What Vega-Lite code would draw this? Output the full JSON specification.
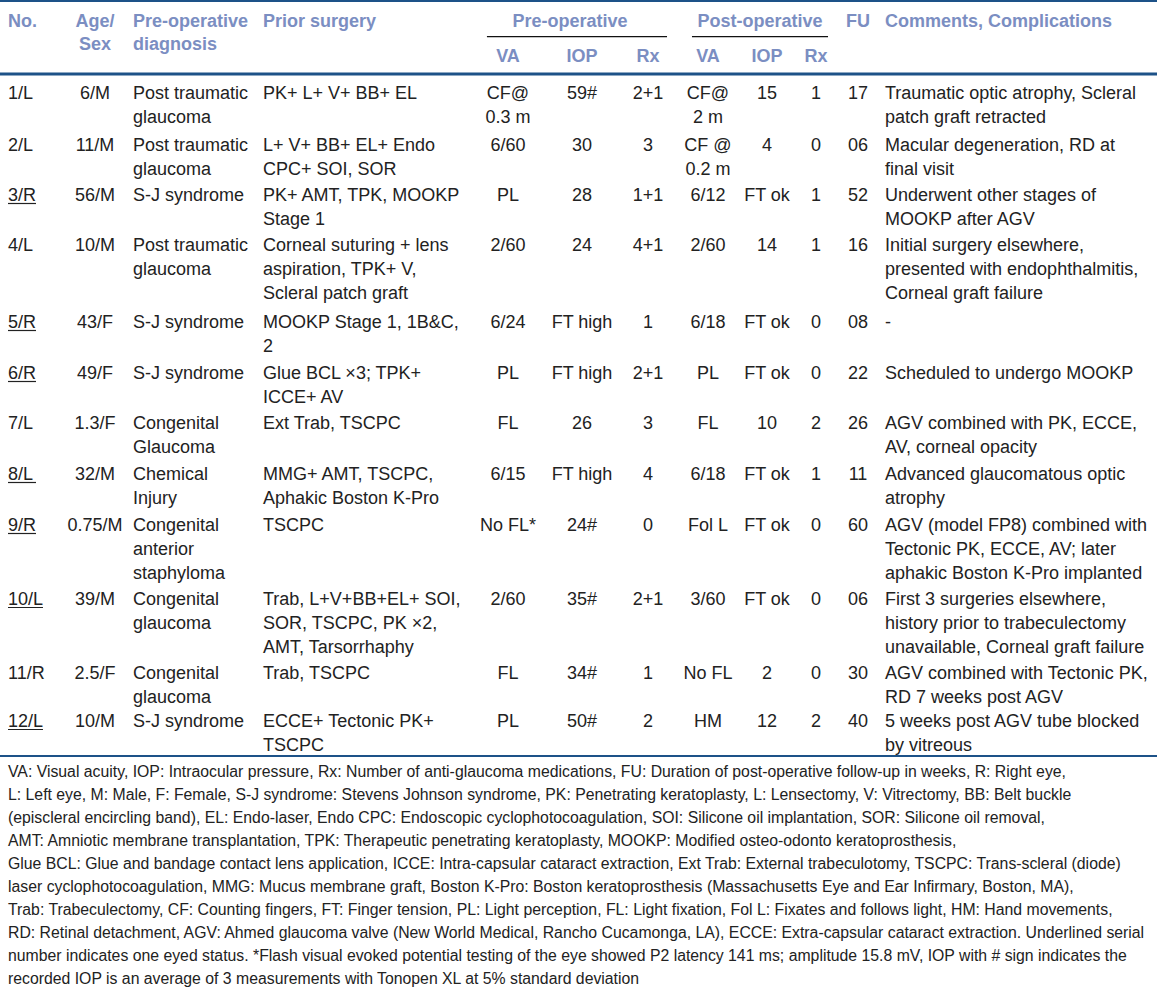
{
  "$schema": "https://vega.github.io/schema/vega-lite/v6.json",
  "width": 1157,
  "height": 993,
  "autosize": {"type": "none"},
  "padding": 0,
  "background": "white",
  "config": {
    "view": {"stroke": null},
    "text": {"font": "Liberation Sans", "fontSize": 18, "color": "#222222", "baseline": "alphabetic", "lineBreak": "\n", "lineHeight": 24}
  },
  "datasets": {
    "patients": [
      {"n": 1, "no": "1/L", "one_eyed": false, "age": "6/M", "dx": "Post traumatic\nglaucoma", "prior": "PK+ L+ V+ BB+ EL", "preVA": "CF@\n0.3 m", "preIOP": "59#", "preRx": "2+1", "postVA": "CF@\n2 m", "postIOP": "15", "postRx": "1", "fu": "17", "com": "Traumatic optic atrophy, Scleral\npatch graft retracted"},
      {"n": 2, "no": "2/L", "one_eyed": false, "age": "11/M", "dx": "Post traumatic\nglaucoma", "prior": "L+ V+ BB+ EL+ Endo\nCPC+ SOI, SOR", "preVA": "6/60", "preIOP": "30", "preRx": "3", "postVA": "CF @\n0.2 m", "postIOP": "4", "postRx": "0", "fu": "06", "com": "Macular degeneration, RD at\nfinal visit"},
      {"n": 3, "no": "3/R", "one_eyed": true, "age": "56/M", "dx": "S-J syndrome", "prior": "PK+ AMT, TPK, MOOKP\nStage 1", "preVA": "PL", "preIOP": "28", "preRx": "1+1", "postVA": "6/12", "postIOP": "FT ok", "postRx": "1", "fu": "52", "com": "Underwent other stages of\nMOOKP after AGV"},
      {"n": 4, "no": "4/L", "one_eyed": false, "age": "10/M", "dx": "Post traumatic\nglaucoma", "prior": "Corneal suturing + lens\naspiration, TPK+ V,\nScleral patch graft", "preVA": "2/60", "preIOP": "24", "preRx": "4+1", "postVA": "2/60", "postIOP": "14", "postRx": "1", "fu": "16", "com": "Initial surgery elsewhere,\npresented with endophthalmitis,\nCorneal graft failure"},
      {"n": 5, "no": "5/R", "one_eyed": true, "age": "43/F", "dx": "S-J syndrome", "prior": "MOOKP Stage 1, 1B&C,\n2", "preVA": "6/24", "preIOP": "FT high", "preRx": "1", "postVA": "6/18", "postIOP": "FT ok", "postRx": "0", "fu": "08", "com": "-"},
      {"n": 6, "no": "6/R", "one_eyed": true, "age": "49/F", "dx": "S-J syndrome", "prior": "Glue BCL ×3; TPK+\nICCE+ AV", "preVA": "PL", "preIOP": "FT high", "preRx": "2+1", "postVA": "PL", "postIOP": "FT ok", "postRx": "0", "fu": "22", "com": "Scheduled to undergo MOOKP"},
      {"n": 7, "no": "7/L", "one_eyed": false, "age": "1.3/F", "dx": "Congenital\nGlaucoma", "prior": "Ext Trab, TSCPC", "preVA": "FL", "preIOP": "26", "preRx": "3", "postVA": "FL", "postIOP": "10", "postRx": "2", "fu": "26", "com": "AGV combined with PK, ECCE,\nAV, corneal opacity"},
      {"n": 8, "no": "8/L", "one_eyed": true, "age": "32/M", "dx": "Chemical\nInjury", "prior": "MMG+ AMT, TSCPC,\nAphakic Boston K-Pro", "preVA": "6/15", "preIOP": "FT high", "preRx": "4", "postVA": "6/18", "postIOP": "FT ok", "postRx": "1", "fu": "11", "com": "Advanced glaucomatous optic\natrophy"},
      {"n": 9, "no": "9/R", "one_eyed": true, "age": "0.75/M", "dx": "Congenital\nanterior\nstaphyloma", "prior": "TSCPC", "preVA": "No FL*", "preIOP": "24#", "preRx": "0", "postVA": "Fol L", "postIOP": "FT ok", "postRx": "0", "fu": "60", "com": "AGV (model FP8) combined with\nTectonic PK, ECCE, AV; later\naphakic Boston K-Pro implanted"},
      {"n": 10, "no": "10/L", "one_eyed": true, "age": "39/M", "dx": "Congenital\nglaucoma", "prior": "Trab, L+V+BB+EL+ SOI,\nSOR, TSCPC, PK ×2,\nAMT, Tarsorrhaphy", "preVA": "2/60", "preIOP": "35#", "preRx": "2+1", "postVA": "3/60", "postIOP": "FT ok", "postRx": "0", "fu": "06", "com": "First 3 surgeries elsewhere,\nhistory prior to trabeculectomy\nunavailable, Corneal graft failure"},
      {"n": 11, "no": "11/R", "one_eyed": false, "age": "2.5/F", "dx": "Congenital\nglaucoma", "prior": "Trab, TSCPC", "preVA": "FL", "preIOP": "34#", "preRx": "1", "postVA": "No FL", "postIOP": "2", "postRx": "0", "fu": "30", "com": "AGV combined with Tectonic PK,\nRD 7 weeks post AGV"},
      {"n": 12, "no": "12/L", "one_eyed": true, "age": "10/M", "dx": "S-J syndrome", "prior": "ECCE+ Tectonic PK+\nTSCPC", "preVA": "PL", "preIOP": "50#", "preRx": "2", "postVA": "HM", "postIOP": "12", "postRx": "2", "fu": "40", "com": "5 weeks post AGV tube blocked\nby vitreous"}
    ],
    "headers": [
      {"h": "No.", "col": 0},
      {"h": "Age/\nSex", "col": 1},
      {"h": "Pre-operative\ndiagnosis", "col": 2},
      {"h": "Prior surgery", "col": 3},
      {"h": "FU", "col": 10},
      {"h": "Comments, Complications", "col": 11}
    ],
    "subheaders": [
      {"h": "VA", "col": 4},
      {"h": "IOP", "col": 5},
      {"h": "Rx", "col": 6},
      {"h": "VA", "col": 7},
      {"h": "IOP", "col": 8},
      {"h": "Rx", "col": 9}
    ],
    "notes": [
      {"note": "VA: Visual acuity, IOP: Intraocular pressure, Rx: Number of anti-glaucoma medications, FU: Duration of post-operative follow-up in weeks, R: Right eye,\nL: Left eye, M: Male, F: Female, S-J syndrome: Stevens Johnson syndrome, PK: Penetrating keratoplasty, L: Lensectomy, V: Vitrectomy, BB: Belt buckle\n(episcleral encircling band), EL: Endo-laser, Endo CPC: Endoscopic cyclophotocoagulation, SOI: Silicone oil implantation, SOR: Silicone oil removal,\nAMT: Amniotic membrane transplantation, TPK: Therapeutic penetrating keratoplasty, MOOKP: Modified osteo-odonto keratoprosthesis,\nGlue BCL: Glue and bandage contact lens application, ICCE: Intra-capsular cataract extraction, Ext Trab: External trabeculotomy, TSCPC: Trans-scleral (diode)\nlaser cyclophotocoagulation, MMG: Mucus membrane graft, Boston K-Pro: Boston keratoprosthesis (Massachusetts Eye and Ear Infirmary, Boston, MA),\nTrab: Trabeculectomy, CF: Counting fingers, FT: Finger tension, PL: Light perception, FL: Light fixation, Fol L: Fixates and follows light, HM: Hand movements,\nRD: Retinal detachment, AGV: Ahmed glaucoma valve (New World Medical, Rancho Cucamonga, LA), ECCE: Extra-capsular cataract extraction. Underlined serial\nnumber indicates one eyed status. *Flash visual evoked potential testing of the eye showed P2 latency 141 ms; amplitude 15.8 mV, IOP with # sign indicates the\nrecorded IOP is an average of 3 measurements with Tonopen XL at 5% standard deviation"}
    ]
  },
  "layer": [
    {
      "data": {"name": "notes"},
      "mark": {"type": "rule", "color": "#1d5288", "strokeWidth": 2},
      "encoding": {"y": {"datum": 0.0101, "type": "quantitative", "scale": {"type": "linear", "domain": [0, 1, 2, 3, 4, 5, 6, 7, 8, 9, 10, 11, 12, 13], "range": [0, 99, 151, 201, 251, 328, 379, 429, 480, 531, 605, 679, 727, 993], "zero": false, "nice": false}, "axis": null}}
    },
    {
      "data": {"name": "notes"},
      "mark": {"type": "rule", "color": "#1d5288", "strokeWidth": 3},
      "encoding": {"y": {"datum": 0.7475, "type": "quantitative", "scale": {"type": "linear", "domain": [0, 1, 2, 3, 4, 5, 6, 7, 8, 9, 10, 11, 12, 13], "range": [0, 99, 151, 201, 251, 328, 379, 429, 480, 531, 605, 679, 727, 993], "zero": false, "nice": false}, "axis": null}}
    },
    {
      "data": {"name": "notes"},
      "mark": {"type": "rule", "color": "#1d5288", "strokeWidth": 2},
      "encoding": {"y": {"datum": 12.109, "type": "quantitative", "scale": {"type": "linear", "domain": [0, 1, 2, 3, 4, 5, 6, 7, 8, 9, 10, 11, 12, 13], "range": [0, 99, 151, 201, 251, 328, 379, 429, 480, 531, 605, 679, 727, 993], "zero": false, "nice": false}, "axis": null}}
    },
    {
      "data": {"name": "notes"},
      "mark": {"type": "rule", "color": "#111111", "strokeWidth": 1.3},
      "encoding": {
        "y": {"datum": 0.3707, "type": "quantitative", "scale": {"type": "linear", "domain": [0, 1, 2, 3, 4, 5, 6, 7, 8, 9, 10, 11, 12, 13], "range": [0, 99, 151, 201, 251, 328, 379, 429, 480, 531, 605, 679, 727, 993], "zero": false, "nice": false}, "axis": null},
        "x": {"datum": 3.914, "type": "quantitative", "scale": {"type": "linear", "domain": [0, 1, 2, 3, 4, 5, 6, 7, 8, 9, 10, 11], "range": [8, 95, 133, 263, 508, 582, 648, 708, 767, 816, 858, 885], "zero": false, "nice": false}, "axis": null},
        "x2": {"datum": 6.317}
      }
    },
    {
      "data": {"name": "notes"},
      "mark": {"type": "rule", "color": "#111111", "strokeWidth": 1.3},
      "encoding": {
        "y": {"datum": 0.3707, "type": "quantitative", "scale": {"type": "linear", "domain": [0, 1, 2, 3, 4, 5, 6, 7, 8, 9, 10, 11, 12, 13], "range": [0, 99, 151, 201, 251, 328, 379, 429, 480, 531, 605, 679, 727, 993], "zero": false, "nice": false}, "axis": null},
        "x": {"datum": 6.733, "type": "quantitative", "scale": {"type": "linear", "domain": [0, 1, 2, 3, 4, 5, 6, 7, 8, 9, 10, 11], "range": [8, 95, 133, 263, 508, 582, 648, 708, 767, 816, 858, 885], "zero": false, "nice": false}, "axis": null},
        "x2": {"datum": 9.286}
      }
    },
    {
      "data": {"name": "headers"},
      "transform": [{"filter": "indexof([0, 2, 3, 11], datum.col) >= 0"}],
      "mark": {"type": "text", "align": "left", "fontWeight": "bold", "color": "#7b8ec2", "lineHeight": 23},
      "encoding": {
        "y": {"datum": 0.2727, "type": "quantitative", "scale": {"type": "linear", "domain": [0, 1, 2, 3, 4, 5, 6, 7, 8, 9, 10, 11, 12, 13], "range": [0, 99, 151, 201, 251, 328, 379, 429, 480, 531, 605, 679, 727, 993], "zero": false, "nice": false}, "axis": null},
        "x": {"field": "col", "type": "quantitative", "scale": {"type": "linear", "domain": [0, 1, 2, 3, 4, 5, 6, 7, 8, 9, 10, 11], "range": [8, 95, 133, 263, 508, 582, 648, 708, 767, 816, 858, 885], "zero": false, "nice": false}, "axis": null},
        "text": {"field": "h"}
      }
    },
    {
      "data": {"name": "headers"},
      "transform": [{"filter": "indexof([1, 10], datum.col) >= 0"}],
      "mark": {"type": "text", "align": "center", "fontWeight": "bold", "color": "#7b8ec2", "lineHeight": 23},
      "encoding": {
        "y": {"datum": 0.2727, "type": "quantitative", "scale": {"type": "linear", "domain": [0, 1, 2, 3, 4, 5, 6, 7, 8, 9, 10, 11, 12, 13], "range": [0, 99, 151, 201, 251, 328, 379, 429, 480, 531, 605, 679, 727, 993], "zero": false, "nice": false}, "axis": null},
        "x": {"field": "col", "type": "quantitative", "scale": {"type": "linear", "domain": [0, 1, 2, 3, 4, 5, 6, 7, 8, 9, 10, 11], "range": [8, 95, 133, 263, 508, 582, 648, 708, 767, 816, 858, 885], "zero": false, "nice": false}, "axis": null},
        "text": {"field": "h"}
      }
    },
    {
      "data": {"name": "subheaders"},
      "mark": {"type": "text", "align": "center", "fontWeight": "bold", "color": "#7b8ec2"},
      "encoding": {
        "y": {"datum": 0.6263, "type": "quantitative", "scale": {"type": "linear", "domain": [0, 1, 2, 3, 4, 5, 6, 7, 8, 9, 10, 11, 12, 13], "range": [0, 99, 151, 201, 251, 328, 379, 429, 480, 531, 605, 679, 727, 993], "zero": false, "nice": false}, "axis": null},
        "x": {"field": "col", "type": "quantitative", "scale": {"type": "linear", "domain": [0, 1, 2, 3, 4, 5, 6, 7, 8, 9, 10, 11], "range": [8, 95, 133, 263, 508, 582, 648, 708, 767, 816, 858, 885], "zero": false, "nice": false}, "axis": null},
        "text": {"field": "h"}
      }
    },
    {
      "data": {"name": "notes"},
      "mark": {"type": "text", "align": "center", "fontWeight": "bold", "color": "#7b8ec2", "text": "Pre-operative"},
      "encoding": {
        "y": {"datum": 0.2727, "type": "quantitative", "scale": {"type": "linear", "domain": [0, 1, 2, 3, 4, 5, 6, 7, 8, 9, 10, 11, 12, 13], "range": [0, 99, 151, 201, 251, 328, 379, 429, 480, 531, 605, 679, 727, 993], "zero": false, "nice": false}, "axis": null},
        "x": {"datum": 4.838, "type": "quantitative", "scale": {"type": "linear", "domain": [0, 1, 2, 3, 4, 5, 6, 7, 8, 9, 10, 11], "range": [8, 95, 133, 263, 508, 582, 648, 708, 767, 816, 858, 885], "zero": false, "nice": false}, "axis": null}
      }
    },
    {
      "data": {"name": "notes"},
      "mark": {"type": "text", "align": "center", "fontWeight": "bold", "color": "#7b8ec2", "text": "Post-operative"},
      "encoding": {
        "y": {"datum": 0.2727, "type": "quantitative", "scale": {"type": "linear", "domain": [0, 1, 2, 3, 4, 5, 6, 7, 8, 9, 10, 11, 12, 13], "range": [0, 99, 151, 201, 251, 328, 379, 429, 480, 531, 605, 679, 727, 993], "zero": false, "nice": false}, "axis": null},
        "x": {"datum": 7.881, "type": "quantitative", "scale": {"type": "linear", "domain": [0, 1, 2, 3, 4, 5, 6, 7, 8, 9, 10, 11], "range": [8, 95, 133, 263, 508, 582, 648, 708, 767, 816, 858, 885], "zero": false, "nice": false}, "axis": null}
      }
    },
    {
      "data": {"name": "notes"},
      "mark": {"type": "text", "align": "left", "fontSize": 15.8, "lineHeight": 23},
      "encoding": {
        "y": {"datum": 12.188, "type": "quantitative", "scale": {"type": "linear", "domain": [0, 1, 2, 3, 4, 5, 6, 7, 8, 9, 10, 11, 12, 13], "range": [0, 99, 151, 201, 251, 328, 379, 429, 480, 531, 605, 679, 727, 993], "zero": false, "nice": false}, "axis": null},
        "x": {"datum": 0, "type": "quantitative", "scale": {"type": "linear", "domain": [0, 1, 2, 3, 4, 5, 6, 7, 8, 9, 10, 11], "range": [8, 95, 133, 263, 508, 582, 648, 708, 767, 816, 858, 885], "zero": false, "nice": false}, "axis": null},
        "text": {"field": "note"}
      }
    },
    {"data": {"name": "patients"}, "mark": {"type": "text", "align": "left"}, "encoding": {"y": {"field": "n", "type": "quantitative", "scale": {"type": "linear", "domain": [0, 1, 2, 3, 4, 5, 6, 7, 8, 9, 10, 11, 12, 13], "range": [0, 99, 151, 201, 251, 328, 379, 429, 480, 531, 605, 679, 727, 993], "zero": false, "nice": false}, "axis": null}, "x": {"datum": 0, "type": "quantitative", "scale": {"type": "linear", "domain": [0, 1, 2, 3, 4, 5, 6, 7, 8, 9, 10, 11], "range": [8, 95, 133, 263, 508, 582, 648, 708, 767, 816, 858, 885], "zero": false, "nice": false}, "axis": null}, "text": {"field": "no"}}},
    {"data": {"name": "patients"}, "mark": {"type": "text", "align": "center"}, "encoding": {"y": {"field": "n", "type": "quantitative", "scale": {"type": "linear", "domain": [0, 1, 2, 3, 4, 5, 6, 7, 8, 9, 10, 11, 12, 13], "range": [0, 99, 151, 201, 251, 328, 379, 429, 480, 531, 605, 679, 727, 993], "zero": false, "nice": false}, "axis": null}, "x": {"datum": 1, "type": "quantitative", "scale": {"type": "linear", "domain": [0, 1, 2, 3, 4, 5, 6, 7, 8, 9, 10, 11], "range": [8, 95, 133, 263, 508, 582, 648, 708, 767, 816, 858, 885], "zero": false, "nice": false}, "axis": null}, "text": {"field": "age"}}},
    {"data": {"name": "patients"}, "mark": {"type": "text", "align": "left"}, "encoding": {"y": {"field": "n", "type": "quantitative", "scale": {"type": "linear", "domain": [0, 1, 2, 3, 4, 5, 6, 7, 8, 9, 10, 11, 12, 13], "range": [0, 99, 151, 201, 251, 328, 379, 429, 480, 531, 605, 679, 727, 993], "zero": false, "nice": false}, "axis": null}, "x": {"datum": 2, "type": "quantitative", "scale": {"type": "linear", "domain": [0, 1, 2, 3, 4, 5, 6, 7, 8, 9, 10, 11], "range": [8, 95, 133, 263, 508, 582, 648, 708, 767, 816, 858, 885], "zero": false, "nice": false}, "axis": null}, "text": {"field": "dx"}}},
    {"data": {"name": "patients"}, "mark": {"type": "text", "align": "left"}, "encoding": {"y": {"field": "n", "type": "quantitative", "scale": {"type": "linear", "domain": [0, 1, 2, 3, 4, 5, 6, 7, 8, 9, 10, 11, 12, 13], "range": [0, 99, 151, 201, 251, 328, 379, 429, 480, 531, 605, 679, 727, 993], "zero": false, "nice": false}, "axis": null}, "x": {"datum": 3, "type": "quantitative", "scale": {"type": "linear", "domain": [0, 1, 2, 3, 4, 5, 6, 7, 8, 9, 10, 11], "range": [8, 95, 133, 263, 508, 582, 648, 708, 767, 816, 858, 885], "zero": false, "nice": false}, "axis": null}, "text": {"field": "prior"}}},
    {"data": {"name": "patients"}, "mark": {"type": "text", "align": "center"}, "encoding": {"y": {"field": "n", "type": "quantitative", "scale": {"type": "linear", "domain": [0, 1, 2, 3, 4, 5, 6, 7, 8, 9, 10, 11, 12, 13], "range": [0, 99, 151, 201, 251, 328, 379, 429, 480, 531, 605, 679, 727, 993], "zero": false, "nice": false}, "axis": null}, "x": {"datum": 4, "type": "quantitative", "scale": {"type": "linear", "domain": [0, 1, 2, 3, 4, 5, 6, 7, 8, 9, 10, 11], "range": [8, 95, 133, 263, 508, 582, 648, 708, 767, 816, 858, 885], "zero": false, "nice": false}, "axis": null}, "text": {"field": "preVA"}}},
    {"data": {"name": "patients"}, "mark": {"type": "text", "align": "center"}, "encoding": {"y": {"field": "n", "type": "quantitative", "scale": {"type": "linear", "domain": [0, 1, 2, 3, 4, 5, 6, 7, 8, 9, 10, 11, 12, 13], "range": [0, 99, 151, 201, 251, 328, 379, 429, 480, 531, 605, 679, 727, 993], "zero": false, "nice": false}, "axis": null}, "x": {"datum": 5, "type": "quantitative", "scale": {"type": "linear", "domain": [0, 1, 2, 3, 4, 5, 6, 7, 8, 9, 10, 11], "range": [8, 95, 133, 263, 508, 582, 648, 708, 767, 816, 858, 885], "zero": false, "nice": false}, "axis": null}, "text": {"field": "preIOP"}}},
    {"data": {"name": "patients"}, "mark": {"type": "text", "align": "center"}, "encoding": {"y": {"field": "n", "type": "quantitative", "scale": {"type": "linear", "domain": [0, 1, 2, 3, 4, 5, 6, 7, 8, 9, 10, 11, 12, 13], "range": [0, 99, 151, 201, 251, 328, 379, 429, 480, 531, 605, 679, 727, 993], "zero": false, "nice": false}, "axis": null}, "x": {"datum": 6, "type": "quantitative", "scale": {"type": "linear", "domain": [0, 1, 2, 3, 4, 5, 6, 7, 8, 9, 10, 11], "range": [8, 95, 133, 263, 508, 582, 648, 708, 767, 816, 858, 885], "zero": false, "nice": false}, "axis": null}, "text": {"field": "preRx"}}},
    {"data": {"name": "patients"}, "mark": {"type": "text", "align": "center"}, "encoding": {"y": {"field": "n", "type": "quantitative", "scale": {"type": "linear", "domain": [0, 1, 2, 3, 4, 5, 6, 7, 8, 9, 10, 11, 12, 13], "range": [0, 99, 151, 201, 251, 328, 379, 429, 480, 531, 605, 679, 727, 993], "zero": false, "nice": false}, "axis": null}, "x": {"datum": 7, "type": "quantitative", "scale": {"type": "linear", "domain": [0, 1, 2, 3, 4, 5, 6, 7, 8, 9, 10, 11], "range": [8, 95, 133, 263, 508, 582, 648, 708, 767, 816, 858, 885], "zero": false, "nice": false}, "axis": null}, "text": {"field": "postVA"}}},
    {"data": {"name": "patients"}, "mark": {"type": "text", "align": "center"}, "encoding": {"y": {"field": "n", "type": "quantitative", "scale": {"type": "linear", "domain": [0, 1, 2, 3, 4, 5, 6, 7, 8, 9, 10, 11, 12, 13], "range": [0, 99, 151, 201, 251, 328, 379, 429, 480, 531, 605, 679, 727, 993], "zero": false, "nice": false}, "axis": null}, "x": {"datum": 8, "type": "quantitative", "scale": {"type": "linear", "domain": [0, 1, 2, 3, 4, 5, 6, 7, 8, 9, 10, 11], "range": [8, 95, 133, 263, 508, 582, 648, 708, 767, 816, 858, 885], "zero": false, "nice": false}, "axis": null}, "text": {"field": "postIOP"}}},
    {"data": {"name": "patients"}, "mark": {"type": "text", "align": "center"}, "encoding": {"y": {"field": "n", "type": "quantitative", "scale": {"type": "linear", "domain": [0, 1, 2, 3, 4, 5, 6, 7, 8, 9, 10, 11, 12, 13], "range": [0, 99, 151, 201, 251, 328, 379, 429, 480, 531, 605, 679, 727, 993], "zero": false, "nice": false}, "axis": null}, "x": {"datum": 9, "type": "quantitative", "scale": {"type": "linear", "domain": [0, 1, 2, 3, 4, 5, 6, 7, 8, 9, 10, 11], "range": [8, 95, 133, 263, 508, 582, 648, 708, 767, 816, 858, 885], "zero": false, "nice": false}, "axis": null}, "text": {"field": "postRx"}}},
    {"data": {"name": "patients"}, "mark": {"type": "text", "align": "center"}, "encoding": {"y": {"field": "n", "type": "quantitative", "scale": {"type": "linear", "domain": [0, 1, 2, 3, 4, 5, 6, 7, 8, 9, 10, 11, 12, 13], "range": [0, 99, 151, 201, 251, 328, 379, 429, 480, 531, 605, 679, 727, 993], "zero": false, "nice": false}, "axis": null}, "x": {"datum": 10, "type": "quantitative", "scale": {"type": "linear", "domain": [0, 1, 2, 3, 4, 5, 6, 7, 8, 9, 10, 11], "range": [8, 95, 133, 263, 508, 582, 648, 708, 767, 816, 858, 885], "zero": false, "nice": false}, "axis": null}, "text": {"field": "fu"}}},
    {"data": {"name": "patients"}, "mark": {"type": "text", "align": "left"}, "encoding": {"y": {"field": "n", "type": "quantitative", "scale": {"type": "linear", "domain": [0, 1, 2, 3, 4, 5, 6, 7, 8, 9, 10, 11, 12, 13], "range": [0, 99, 151, 201, 251, 328, 379, 429, 480, 531, 605, 679, 727, 993], "zero": false, "nice": false}, "axis": null}, "x": {"datum": 11, "type": "quantitative", "scale": {"type": "linear", "domain": [0, 1, 2, 3, 4, 5, 6, 7, 8, 9, 10, 11], "range": [8, 95, 133, 263, 508, 582, 648, 708, 767, 816, 858, 885], "zero": false, "nice": false}, "axis": null}, "text": {"field": "com"}}},
    {
      "data": {"name": "patients"},
      "transform": [{"filter": "datum.one_eyed && length(datum.no) == 3"}],
      "mark": {"type": "rule", "color": "#222222", "strokeWidth": 1.2, "yOffset": 2.5},
      "encoding": {
        "y": {"field": "n", "type": "quantitative", "scale": {"type": "linear", "domain": [0, 1, 2, 3, 4, 5, 6, 7, 8, 9, 10, 11, 12, 13], "range": [0, 99, 151, 201, 251, 328, 379, 429, 480, 531, 605, 679, 727, 993], "zero": false, "nice": false}, "axis": null},
        "x": {"datum": 0, "type": "quantitative", "scale": {"type": "linear", "domain": [0, 1, 2, 3, 4, 5, 6, 7, 8, 9, 10, 11], "range": [8, 95, 133, 263, 508, 582, 648, 708, 767, 816, 858, 885], "zero": false, "nice": false}, "axis": null},
        "x2": {"datum": 0.322}
      }
    },
    {
      "data": {"name": "patients"},
      "transform": [{"filter": "datum.one_eyed && length(datum.no) == 4"}],
      "mark": {"type": "rule", "color": "#222222", "strokeWidth": 1.2, "yOffset": 2.5},
      "encoding": {
        "y": {"field": "n", "type": "quantitative", "scale": {"type": "linear", "domain": [0, 1, 2, 3, 4, 5, 6, 7, 8, 9, 10, 11, 12, 13], "range": [0, 99, 151, 201, 251, 328, 379, 429, 480, 531, 605, 679, 727, 993], "zero": false, "nice": false}, "axis": null},
        "x": {"datum": 0, "type": "quantitative", "scale": {"type": "linear", "domain": [0, 1, 2, 3, 4, 5, 6, 7, 8, 9, 10, 11], "range": [8, 95, 133, 263, 508, 582, 648, 708, 767, 816, 858, 885], "zero": false, "nice": false}, "axis": null},
        "x2": {"datum": 0.402}
      }
    }
  ]
}
